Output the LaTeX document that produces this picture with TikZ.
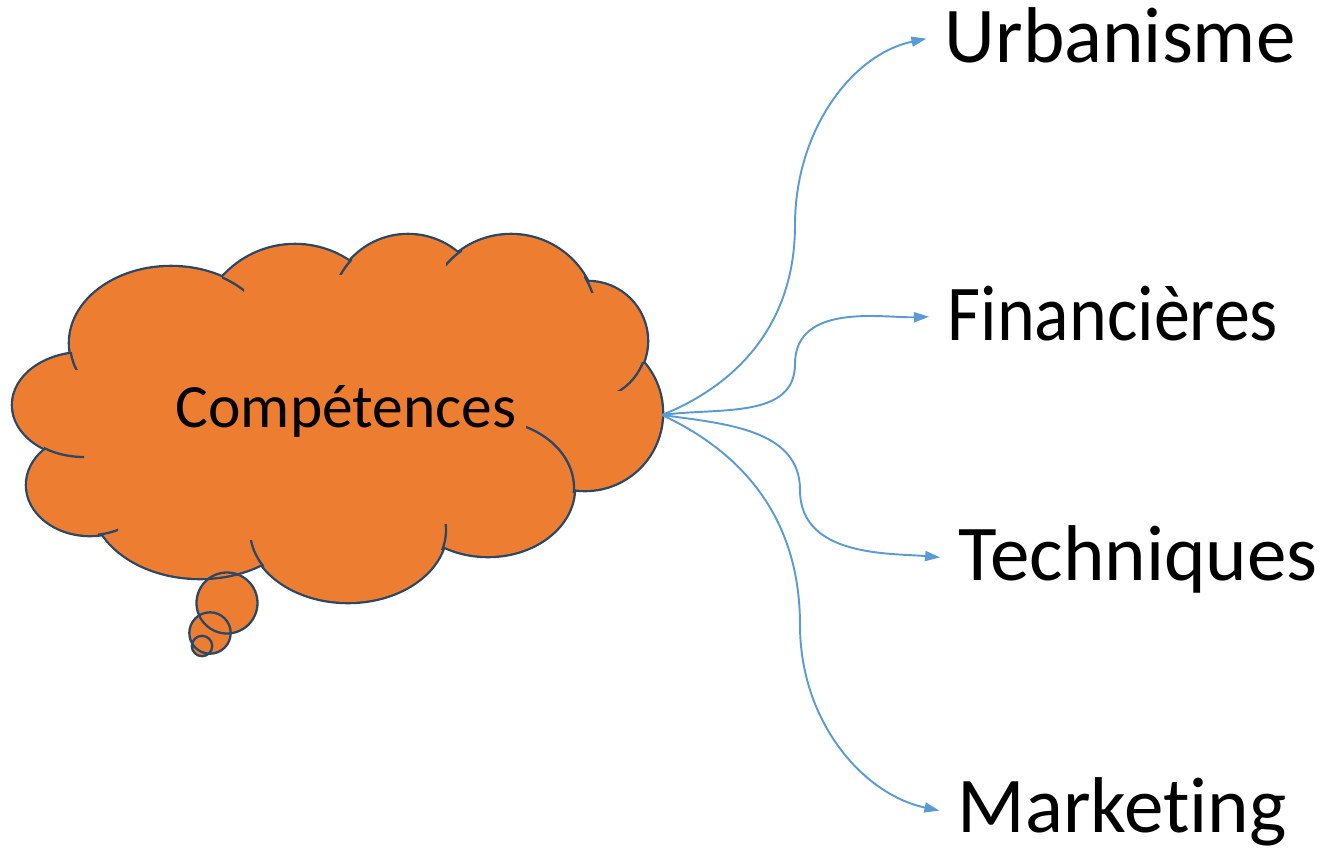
\documentclass[tikz,border=0pt]{standalone}
\usepackage{fontspec}
\setmainfont{Carlito}[Ligatures=NoCommon]
\usetikzlibrary{arrows.meta,positioning}

\definecolor{cloudfill}{HTML}{ED7D31}
\definecolor{cloudline}{HTML}{2A4766}
\definecolor{linkblue}{HTML}{5B9BD5}

\begin{document}
\begin{tikzpicture}[x=0.02cm, y=-0.02cm, thick]
    \tikzstyle{puff} = [draw=cloudline, line width=2.6pt]
    \tikzstyle{rim} = [draw=cloudline, line width=1.3pt]
    \tikzstyle{branch} = [anchor=base west, inner sep=0pt, font=\fontsize{45}{54}\selectfont]
    \tikzstyle{link} = [draw=linkblue, line width=1.1pt, -{Triangle[length=0.3cm,width=0.2cm]}, shorten >=0.36cm]

    \useasboundingbox (0,0) rectangle (1322,853);

    \fill[cloudfill] (227,603) circle [radius=30.5] (210,633) circle [radius=20.7] (202,646) circle [radius=10.2];

    \foreach \cx/\cy/\rx/\ry in {84/405/71/52, 171/343/101/76, 295/342/97/97, 408/312/77/77, 511/321/86/86, 588/341/59/59, 585/413/77/77, 488/488/86/68, 348/530/98/72, 200/500/108/78, 90/485/63/50}
        \draw[puff] (\cx,\cy) ellipse [x radius=\rx, y radius=\ry];
    \foreach \cx/\cy/\rx/\ry in {84/405/71/52, 171/343/101/76, 295/342/97/97, 408/312/77/77, 511/321/86/86, 588/341/59/59, 585/413/77/77, 488/488/86/68, 348/530/98/72, 200/500/108/78, 90/485/63/50}
        \fill[cloudfill] (\cx,\cy) ellipse [x radius=\rx, y radius=\ry];
    \fill[cloudfill] (74,360) -- (226,282) -- (350,266) -- (458,258) -- (588,287) -- (638,365) -- (572,486) -- (443,543) -- (262,562) -- (104,530) -- (50,449) -- cycle;

    \foreach \cx/\cy/\rx/\ry/\ax/\ay/\bx/\by in {84/405/71/52/44/440/84/462, 171/343/101/76/64/352/82/369, 171/343/101/76/222/270/244/292, 408/312/77/77/338/255/352/274, 511/321/86/86/446/248/462/268, 511/321/86/86/584/276/596/292, 588/341/59/59/615/362/646/390, 488/488/86/68/526/418/590/492, 348/530/98/72/438/524/450/549, 348/530/98/72/248/540/264/567, 90/485/63/50/98/526/118/540}
    {
        \begin{scope}
            \clip (\ax,\ay) rectangle (\bx,\by);
            \draw[rim] (\cx,\cy) ellipse [x radius=\rx, y radius=\ry];
        \end{scope}
    }

    \draw[rim] (227,603) circle [radius=30.5] (210,633) circle [radius=20.7] (202,646) circle [radius=10.2];

    \node [anchor=base west, inner sep=0pt, font=\fontsize{35}{42}\selectfont] (comp) at (175,427) {Compétences};

    \node [branch] (urbanisme) at (944,62) {Urbanisme};
    \node [branch] (financieres) at (947,340) {\scalebox{0.91}[1]{Financières}};
    \node [branch] (techniques) at (958,580) {Techniques};
    \node [branch] (marketing) at (957,832) {Marketing};

    \coordinate (src) at (662,415);
    \coordinate (urbBend) at (795,225);
    \coordinate (finBend) at (795,364);
    \coordinate (techBend) at (800,490);
    \coordinate (markBend) at (800,625);

    \draw[link] (src) to[out=22,in=-90] (urbBend) to[out=90,in=192] (urbanisme.west);
    \draw[link] (src) to[out=8,in=-90] (finBend) to[out=90,in=182] ([yshift=-0.06cm]financieres.west);
    \draw[link] (src) to[out=-8,in=90] (techBend) to[out=-90,in=175] (techniques.west);
    \draw[link] (src) to[out=-25,in=90] (markBend) to[out=-90,in=168] ([yshift=-0.06cm]marketing.west);
\end{tikzpicture}
\end{document}
